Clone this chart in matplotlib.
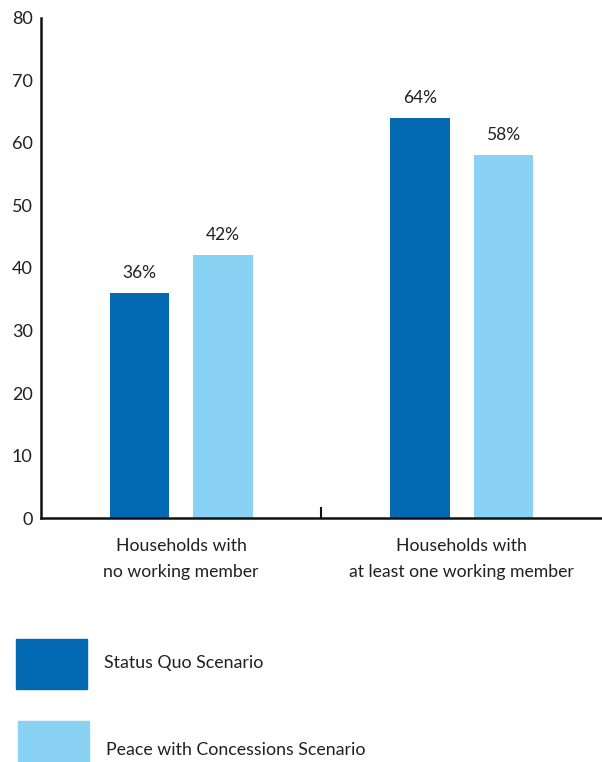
import matplotlib
matplotlib.use("Agg")
import matplotlib.pyplot as plt
from matplotlib.patches import Rectangle
import numpy as np

plt.rcParams['font.family'] = ['Lato', 'DejaVu Sans']

categories = ["Households with\nno working member", "Households with\nat least one working member"]
series_names = ["Status Quo Scenario", "Peace with Concessions Scenario"]
status_quo = [36, 64]
peace_concessions = [42, 58]
y_ticks = [0, 10, 20, 30, 40, 50, 60, 70, 80]

dark_blue = "#0369B3"
light_blue = "#8AD2F4"
text_color = "#231F20"

fig = plt.figure(figsize=(6.02, 7.62), dpi=100)
ax = fig.add_axes([0.0681, 0.3202, 0.9319, 0.6562])

x = np.arange(len(categories))
width = 0.213
offset = 0.149

b1 = ax.bar(x - offset, status_quo, width, color=dark_blue)
b2 = ax.bar(x + offset, peace_concessions, width, color=light_blue)

for bars, vals in ((b1, status_quo), (b2, peace_concessions)):
    for rect, v in zip(bars, vals):
        ax.annotate(f"{v}%", (rect.get_x() + rect.get_width() / 2, v),
                    xytext=(0, 11), textcoords="offset points",
                    ha="center", va="baseline", fontsize=12.5, color=text_color)

ax.set_xlim(-0.5, 1.5)
ax.set_ylim(0, 80)
ax.set_yticks(y_ticks)
ax.set_yticklabels([str(t) for t in y_ticks], fontsize=13, color=text_color)
ax.tick_params(axis="y", length=0, pad=6)

# category labels sit under the group centres; the only x tick is the divider
ax.set_xticks([0.5])
ax.set_xticklabels([""])
ax.tick_params(axis="x", direction="in", length=8, width=1.5, color="#111111")
for xi, label in zip(x, categories):
    ax.text(xi, -3.2, label, ha="center", va="top", fontsize=12.7,
            color=text_color, linespacing=1.8)

for side in ("top", "right"):
    ax.spines[side].set_visible(False)
for side in ("left", "bottom"):
    ax.spines[side].set_linewidth(1.8)
    ax.spines[side].set_color("#111111")

# legend drawn in figure coordinates
W, H = 602, 762
def fig_rect(x0, y0, x1, y1, color):
    fig.patches.append(Rectangle((x0 / W, 1 - y1 / H), (x1 - x0) / W, (y1 - y0) / H,
                                 transform=fig.transFigure, color=color, zorder=3))

fig_rect(16, 639, 87, 689, dark_blue)
fig_rect(18, 721, 89, 770, light_blue)
fig.text(104 / W, 1 - 663 / H, series_names[0], ha="left", va="center",
         fontsize=12.8, color=text_color)
fig.text(106 / W, 1 - 750 / H, series_names[1], ha="left", va="center",
         fontsize=12.8, color=text_color)

fig.savefig("out.png", dpi=100)
